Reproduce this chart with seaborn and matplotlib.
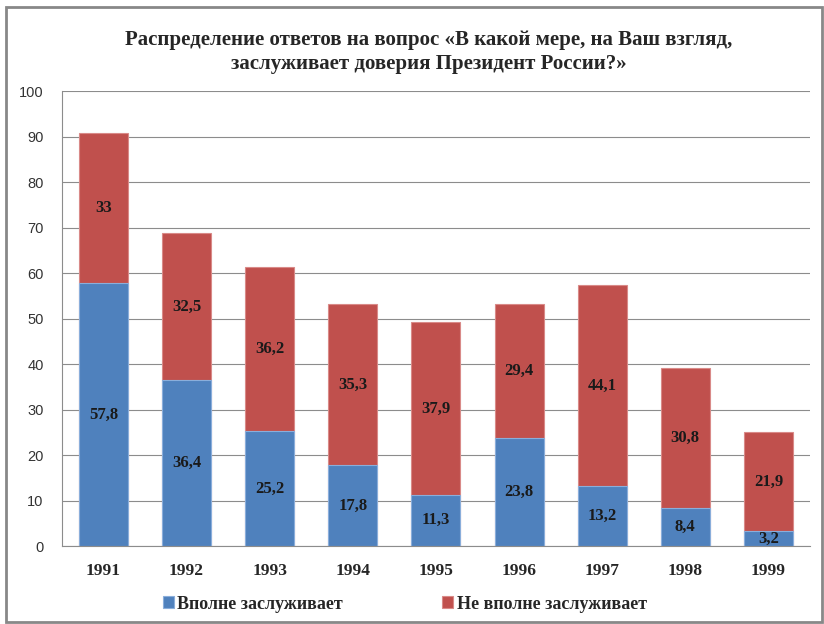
import pandas as pd
import seaborn as sns
import matplotlib.pyplot as plt
from matplotlib.patches import Rectangle

years = ['1991', '1992', '1993', '1994', '1995', '1996', '1997', '1998', '1999']
fully = [57.8, 36.4, 25.2, 17.8, 11.3, 23.8, 13.2, 8.4, 3.2]
not_fully = [33, 32.5, 36.2, 35.3, 37.9, 29.4, 44.1, 30.8, 21.9]
fully_labels = ['57,8', '36,4', '25,2', '17,8', '11,3', '23,8', '13,2', '8,4', '3,2']
not_fully_labels = ['33', '32,5', '36,2', '35,3', '37,9', '29,4', '44,1', '30,8', '21,9']

title = ('Распределение ответов на вопрос «В какой мере, на Ваш взгляд,\n'
         'заслуживает доверия Президент России?»')


def main():
    df = pd.DataFrame({'year': years, 'fully': fully, 'not_fully': not_fully})
    df['total'] = df['fully'] + df['not_fully']

    sns.set_style('white')
    plt.rcParams['font.family'] = ['Liberation Serif', 'DejaVu Serif']

    fig = plt.figure(figsize=(8.24, 6.24), dpi=100)
    ax = fig.add_axes([0.075, 0.125, 0.908, 0.729])

    blue = '#4F81BD'
    red = '#C0504D'

    sns.barplot(x='year', y='total', data=df, color=red, width=0.59,
                saturation=1, ax=ax, edgecolor='#d98a88', linewidth=0.8,
                label='Не вполне заслуживает')
    sns.barplot(x='year', y='fully', data=df, color=blue, width=0.59,
                saturation=1, ax=ax, edgecolor='#8aaedb', linewidth=0.8,
                label='Вполне заслуживает')

    for i in range(len(years)):
        ax.text(i, fully[i] / 2, fully_labels[i], ha='center', va='center',
                fontsize=12, fontweight='bold', color='#1a1a1a')
        ax.text(i, fully[i] + not_fully[i] / 2, not_fully_labels[i],
                ha='center', va='center', fontsize=12, fontweight='bold',
                color='#1a1a1a')

    ax.set_ylim(0, 100)
    ax.set_xlim(-0.5, 8.5)
    ax.set_yticks(range(0, 101, 10))
    ax.yaxis.grid(True, color='#8c8c8c', linewidth=0.8)
    ax.set_axisbelow(True)
    for lbl in ax.get_yticklabels():
        lbl.set_family(['Liberation Sans', 'DejaVu Sans'])
        lbl.set_fontsize(10.5)
        lbl.set_color('#333333')
    for lbl in ax.get_xticklabels():
        lbl.set_fontweight('bold')
        lbl.set_fontsize(12.5)
    ax.tick_params(axis='y', length=5, color='#8c8c8c', pad=8)
    ax.tick_params(axis='x', length=0, pad=12)
    for s in ['top', 'right']:
        ax.spines[s].set_visible(False)
    ax.spines['left'].set_color('#8c8c8c')
    ax.spines['bottom'].set_color('#8c8c8c')
    ax.set_xlabel('')
    ax.set_ylabel('')

    handles, labels = ax.get_legend_handles_labels()
    order = [labels.index('Вполне заслуживает'), labels.index('Не вполне заслуживает')]
    ax.legend([handles[k] for k in order], [labels[k] for k in order],
              loc='center', bbox_to_anchor=(0.4915, 0.032),
              bbox_transform=fig.transFigure, ncol=2, frameon=False,
              prop={'size': 13, 'weight': 'bold'},
              handlelength=0.6, handleheight=0.6,
              handletextpad=0.2, columnspacing=5.5)

    fig.text(0.52, 0.952, title, ha='center', va='top', fontsize=15,
             fontweight='bold', linespacing=1.3)

    fig.patches.append(Rectangle((0.007, 0.003), 0.99, 0.985, transform=fig.transFigure,
                                 fill=False, edgecolor='#888888', linewidth=2))

    fig.savefig('out.png', dpi=100)


if __name__ == '__main__':
    main()
